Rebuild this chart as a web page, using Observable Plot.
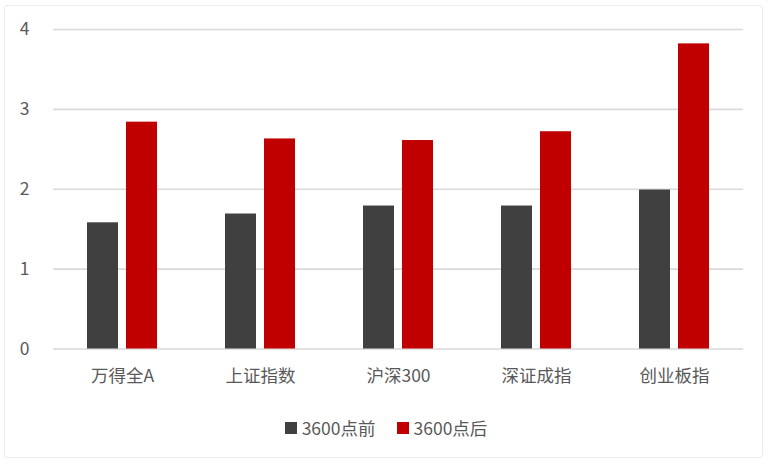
<!DOCTYPE html>
<html>
<head>
<meta charset="utf-8">
<script src="https://cdn.jsdelivr.net/npm/d3@7"></script>
<script src="https://cdn.jsdelivr.net/npm/@observablehq/plot@0.6"></script>
<style>
  html, body { margin: 0; padding: 0; background: #fff; }
  body { width: 772px; height: 467px; position: relative; overflow: hidden;
         font-family: "Noto Sans CJK SC", "Noto Sans", sans-serif; }
  #frame { position: absolute; left: 4px; top: 5px; width: 759px; height: 453px;
           border: 1.5px solid #ececec; border-radius: 3px; box-sizing: border-box; }
  #chart { position: absolute; left: 0; top: 0; }
  #legend { position: absolute; left: 0; top: 416px; width: 772px; display: flex;
            justify-content: center; gap: 21px; font-size: 17.5px; color: #595959; line-height: 24px; }
  .item { display: flex; align-items: center; }
  .sw { width: 12px; height: 12px; margin-right: 5px; }
</style>
</head>
<body>
<div id="frame"></div>
<div id="chart"></div>
<div id="legend"></div>
<script>
const categories = ["万得全A", "上证指数", "沪深300", "深证成指", "创业板指"];
const seriesNames = ["3600点前", "3600点后"];
const beforeValues = [1.58, 1.69, 1.79, 1.79, 1.99];
const afterValues = [2.84, 2.63, 2.61, 2.72, 3.82];
const yTicks = [0, 1, 2, 3, 4];
const colors = ["#404040", "#C00000"];

const data = [];
categories.forEach((c, i) => {
  data.push({cat: c, series: seriesNames[0], value: beforeValues[i]});
  data.push({cat: c, series: seriesNames[1], value: afterValues[i]});
});

const plot = Plot.plot({
  width: 772,
  height: 400,
  marginLeft: 52,
  marginRight: 29,
  marginTop: 29,
  marginBottom: 51.5,
  style: {fontFamily: '"Noto Sans CJK SC", "Noto Sans", sans-serif', fontSize: "17.5px", color: "#595959", background: "transparent"},
  fx: {domain: categories, padding: 0, label: null, tickSize: 0, tickPadding: 21},
  x: {domain: seriesNames, paddingInner: 0.2, paddingOuter: 0.85, axis: null},
  y: {domain: [0, 4], ticks: yTicks, label: null, tickSize: 0, tickPadding: 24, tickFormat: d => String(d)},
  color: {domain: seriesNames, range: colors},
  marks: [
    Plot.gridY(yTicks, {stroke: "#d9d9d9", strokeOpacity: 1, strokeWidth: 1.6}),
    Plot.barY(data, {fx: "cat", x: "series", y: "value", fill: "series"})
  ]
});
document.getElementById("chart").appendChild(plot);

const legend = document.getElementById("legend");
seriesNames.forEach((s, i) => {
  const item = document.createElement("div");
  item.className = "item";
  const sw = document.createElement("div");
  sw.className = "sw";
  sw.style.background = colors[i];
  const t = document.createElement("span");
  t.textContent = s;
  item.appendChild(sw);
  item.appendChild(t);
  legend.appendChild(item);
});
</script>
</body>
</html>
